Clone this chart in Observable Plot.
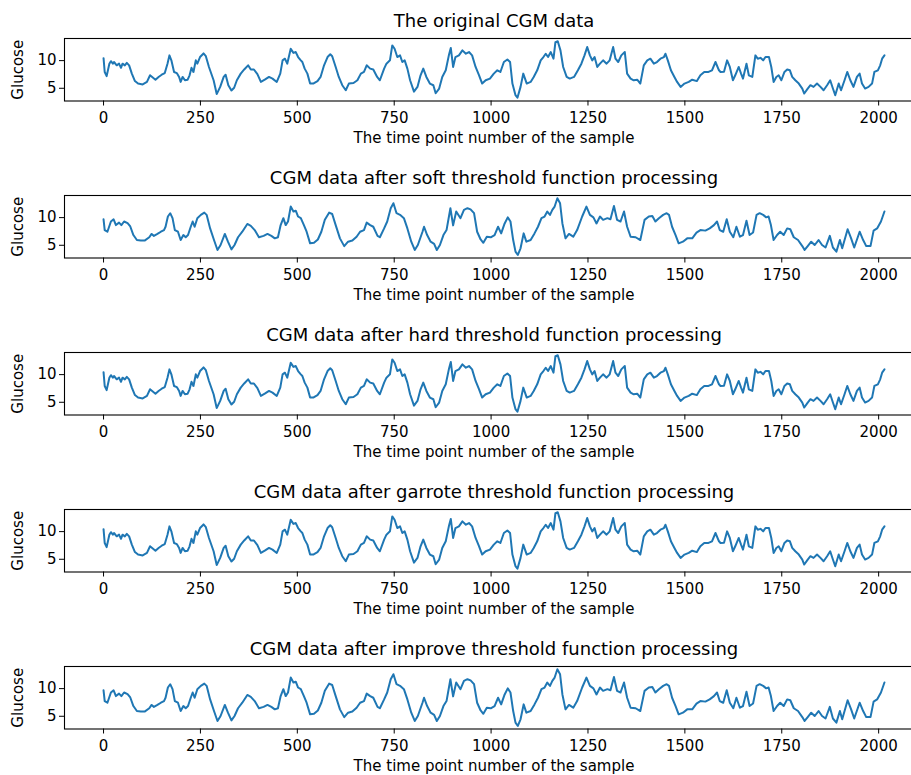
<!DOCTYPE html>
<html>
<head>
<meta charset="utf-8">
<script src="https://cdn.jsdelivr.net/npm/d3@7"></script>
<script src="https://cdn.jsdelivr.net/npm/@observablehq/plot@0.6"></script>
<style>
  html, body { margin: 0; padding: 0; background: #fff; overflow: hidden; }
  #charts { width: 911px; }
  #charts svg { display: block; overflow: hidden; }
</style>
</head>
<body>
<div id="charts"></div>
<script>
// CGM readings: [sample index, glucose mmol/L]
const rawReadings = [
  [0,10.45],[3,7.95],[8,7.2],[15,9.45],[19,9.9],[24,9.45],[27,9.75],[34,9.15],[40,9.45],[45,8.7],
  [49,9.45],[55,9.15],[60,9.6],[66,9.15],[73,7.65],[81,6.3],[89,5.85],[101,5.7],[112,6.15],[120,7.35],
  [127,6.95],[134,6.55],[142,7.05],[150,7.45],[158,7.75],[165,9.45],[170,10.95],[175,10.05],[182,7.95],[189,7.75],
  [195,7.05],[199,6.15],[204,7.05],[210,6.45],[217,6.55],[222,7.35],[227,8.7],[232,7.95],[238,10.05],[242,9.45],
  [249,10.65],[258,11.3],[264,10.8],[272,8.85],[284,6.45],[292,3.95],[301,5.25],[310,7.05],[315,7.45],[322,5.55],
  [330,4.6],[337,5.1],[344,6.45],[354,7.65],[363,8.4],[373,9.15],[380,8.4],[388,8.4],[397,7.55],[406,6.15],
  [416,6.55],[427,7.05],[436,6.75],[447,6.15],[456,7.65],[462,10.05],[468,10.35],[474,9.45],[483,12.15],[490,11.4],
  [496,11.55],[502,10.65],[509,10.05],[513,9.75],[519,8.55],[526,7.65],[533,5.85],[541,5.85],[552,6.3],[560,7.05],
  [569,9.15],[578,10.65],[585,11.15],[590,10.8],[599,8.85],[607,7.05],[616,5.55],[625,4.65],[633,5.85],[645,5.95],
  [655,6.45],[664,7.65],[672,7.95],[679,9.15],[688,8.55],[696,8.4],[706,7.05],[713,6.45],[724,8.55],[730,9.45],
  [739,10.05],[745,12.75],[751,12.15],[758,10.65],[765,10.95],[771,9.75],[777,10.05],[784,8.55],[791,6.45],[801,4.4],
  [810,5.25],[818,7.35],[825,8.55],[833,7.05],[842,5.85],[851,5.55],[857,4.1],[866,4.95],[874,7.05],[883,8.25],
  [891,10.95],[896,12.3],[902,8.85],[908,10.65],[917,10.95],[926,11.85],[935,11.25],[943,11.55],[951,10.95],[960,8.85],
  [969,7.35],[977,5.85],[986,6.45],[997,6.75],[1007,7.65],[1016,8.25],[1024,7.95],[1033,9.75],[1042,10.2],[1049,9.75],
  [1055,5.85],[1063,3.75],[1068,3.3],[1076,5.25],[1083,7.65],[1092,5.85],[1102,6.15],[1110,7.05],[1119,8.25],[1128,10.05],
  [1135,10.65],[1141,11.25],[1147,10.65],[1154,11.55],[1161,10.35],[1166,13.35],[1172,13.5],[1179,11.85],[1186,8.85],[1195,7.05],
  [1203,6.75],[1214,7.05],[1224,8.25],[1233,9.45],[1241,10.95],[1248,12.45],[1255,10.95],[1261,10.05],[1267,10.65],[1274,8.85],
  [1281,9.45],[1289,10.05],[1298,9.45],[1306,10.05],[1315,12.45],[1321,10.35],[1328,9.75],[1336,10.95],[1345,11.55],[1351,7.65],
  [1360,6.75],[1368,6.45],[1377,6.55],[1385,5.85],[1394,9.15],[1403,10.05],[1411,10.35],[1420,9.45],[1428,9.75],[1437,10.35],
  [1446,10.65],[1450,11.25],[1456,10.05],[1464,8.25],[1473,7.05],[1480,6.15],[1489,5.25],[1499,5.85],[1510,6.15],[1519,6.55],
  [1531,6.3],[1540,7.35],[1550,7.95],[1561,7.95],[1570,8.25],[1579,9.75],[1588,8.25],[1592,7.95],[1601,8.0],[1609,10.05],
  [1616,8.85],[1624,6.45],[1630,7.35],[1639,8.85],[1645,7.65],[1650,6.75],[1659,9.45],[1665,7.35],[1674,7.05],[1682,10.95],
  [1688,10.35],[1695,10.5],[1702,10.05],[1708,10.65],[1717,10.65],[1723,8.85],[1729,6.15],[1736,7.05],[1742,7.35],[1749,6.45],
  [1757,7.95],[1764,8.4],[1771,8.25],[1777,7.05],[1785,6.45],[1794,5.85],[1803,4.95],[1808,4.05],[1817,4.95],[1824,5.55],
  [1832,5.25],[1841,5.85],[1850,5.25],[1858,4.65],[1867,5.55],[1875,6.45],[1882,4.95],[1888,3.75],[1897,5.85],[1903,4.65],
  [1912,6.45],[1919,7.95],[1927,6.45],[1935,5.25],[1944,7.05],[1951,7.65],[1957,5.85],[1965,4.95],[1974,5.25],[1983,5.85],
  [1989,7.95],[1998,8.25],[2004,9.15],[2009,10.35],[2015,10.95]
];

// Soft-threshold wavelet output
const softReadings = [
  [0,9.7],[3,7.75],[10,7.45],[19,9.3],[26,9.7],[32,8.65],[40,9.1],[46,8.65],[53,9.3],[62,9.0],
  [69,8.4],[77,6.85],[86,5.95],[96,5.85],[106,5.85],[118,6.45],[124,7.05],[130,6.7],[139,7.05],[148,7.45],
  [156,7.75],[160,8.35],[166,10.2],[172,10.8],[178,9.9],[184,7.75],[192,7.45],[199,5.95],[206,6.85],[212,6.45],
  [218,6.85],[225,8.35],[230,9.3],[235,8.35],[242,9.9],[251,10.5],[260,10.9],[266,10.5],[275,8.05],[285,5.95],
  [294,4.15],[302,5.05],[313,7.05],[321,5.65],[330,4.25],[338,5.05],[347,6.45],[358,7.45],[371,8.85],[380,8.5],
  [390,7.75],[401,6.45],[413,6.7],[423,7.05],[433,6.7],[442,6.25],[450,6.45],[457,8.65],[464,9.9],[470,8.65],
  [476,9.3],[483,12.0],[490,11.1],[496,11.25],[502,10.2],[509,9.9],[517,8.65],[524,7.45],[533,5.35],[543,5.45],
  [553,6.05],[562,7.45],[571,9.6],[582,10.9],[590,10.65],[599,8.65],[610,6.25],[621,4.85],[631,5.65],[642,5.85],
  [653,6.55],[662,7.45],[672,7.75],[679,9.1],[688,8.65],[696,8.35],[707,6.7],[713,6.45],[724,8.05],[732,9.3],
  [741,11.7],[748,12.6],[756,10.8],[765,10.5],[775,9.9],[784,8.05],[794,5.65],[803,4.15],[811,5.05],[823,7.45],
  [827,8.35],[835,6.85],[844,5.65],[853,5.25],[860,4.15],[868,5.05],[877,6.85],[885,7.75],[895,11.7],[902,8.6],
  [910,11.1],[921,9.9],[930,11.4],[939,11.7],[947,11.5],[956,10.8],[964,7.45],[973,6.05],[980,5.45],[989,6.55],
  [999,6.45],[1009,6.85],[1018,8.35],[1026,7.15],[1035,8.95],[1043,10.05],[1050,9.3],[1057,5.95],[1063,3.85],[1069,3.25],
  [1076,4.45],[1084,7.15],[1091,5.65],[1102,5.95],[1112,7.15],[1121,8.35],[1130,9.9],[1138,10.2],[1145,11.1],[1152,10.5],
  [1158,11.4],[1164,12.0],[1171,13.5],[1178,12.6],[1184,8.95],[1192,6.25],[1201,7.05],[1212,6.55],[1222,7.75],[1235,10.2],
  [1246,12.0],[1255,10.5],[1264,10.05],[1272,8.95],[1281,10.2],[1289,9.6],[1300,9.9],[1308,9.7],[1317,12.1],[1325,9.6],
  [1334,9.3],[1343,11.1],[1351,8.35],[1360,6.55],[1373,6.45],[1385,5.95],[1396,9.6],[1407,10.2],[1416,10.3],[1424,9.3],
  [1433,9.9],[1444,10.5],[1453,10.8],[1459,10.5],[1467,8.35],[1476,6.85],[1484,5.35],[1495,5.65],[1506,6.25],[1519,6.25],
  [1530,7.3],[1540,7.75],[1553,7.65],[1564,8.05],[1575,8.65],[1583,9.3],[1590,7.75],[1599,7.45],[1608,9.7],[1616,7.45],
  [1625,6.45],[1633,8.35],[1642,6.55],[1650,6.85],[1659,9.45],[1667,6.85],[1676,7.3],[1685,10.5],[1693,10.8],[1702,10.5],
  [1710,10.05],[1716,10.2],[1722,8.65],[1729,5.95],[1738,6.85],[1746,7.45],[1755,6.85],[1764,8.05],[1772,7.9],[1781,6.45],
  [1792,5.95],[1803,4.85],[1809,4.15],[1817,4.85],[1826,5.65],[1835,5.05],[1845,5.95],[1854,5.05],[1863,4.6],[1874,6.7],
  [1882,4.6],[1891,3.85],[1900,5.95],[1906,4.45],[1920,7.9],[1929,6.25],[1937,4.6],[1951,7.45],[1960,5.95],[1968,4.85],
  [1979,4.85],[1987,7.65],[1996,8.05],[2006,9.3],[2015,11.1]
];

// The hard and garrote outputs track the raw readings point for point,
// and the improved function tracks the soft output.
const hardReadings = rawReadings;
const garroteReadings = rawReadings;
const improvedReadings = softReadings;

const panelTitles = [
  "The original CGM data",
  "CGM data after soft threshold function processing",
  "CGM data after hard threshold function processing",
  "CGM data after garrote threshold function processing",
  "CGM data after improve threshold function processing"
];
const panelSeries = [rawReadings, softReadings, hardReadings, garroteReadings, improvedReadings];

const xTicks = [0, 250, 500, 750, 1000, 1250, 1500, 1750, 2000];
const yTicks = [5, 10];
const xLabel = "The time point number of the sample";
const yLabel = "Glucose";

const root = document.getElementById("charts");

panelSeries.forEach((readings, i) => {
  const rows = readings.map(([t, g]) => ({t, g}));
  const chart = Plot.plot({
    width: 911,
    height: 157,
    marginTop: 38,
    marginBottom: 56.5,
    marginLeft: 64,
    marginRight: -12,
    style: {fontFamily: "DejaVu Sans", fontSize: "15px", color: "#000", background: "#fff", overflow: "hidden"},
    x: {domain: [-100.75, 2115.75]},
    y: {domain: [2.7, 14.0]},
    marks: [
      Plot.axisX({ticks: xTicks, tickFormat: "d", tickSize: 5, tickPadding: 6, label: null, fontSize: 15}),
      Plot.axisY({ticks: yTicks, tickFormat: "d", tickSize: 5, tickPadding: 3, label: null, fontSize: 15}),
      Plot.lineY(rows, {x: "t", y: "g", stroke: "#1f77b4", strokeWidth: 2}),
      Plot.frame({stroke: "#000", strokeWidth: 1.1}),
      // panel title, centred above the axes box
      Plot.text([panelTitles[i]], {text: d => d, frameAnchor: "top", lineAnchor: "middle", dy: -17, fontSize: 18}),
      // x-axis title below the tick labels
      Plot.text([xLabel], {text: d => d, frameAnchor: "bottom", lineAnchor: "middle", dy: 37, fontSize: 15}),
      // rotated y-axis title, centred on the box height
      Plot.text([yLabel], {text: d => d, frameAnchor: "left", textAnchor: "middle", lineAnchor: "middle", dx: -46, rotate: -90, fontSize: 15})
    ]
  });
  root.append(chart);
});
</script>
</body>
</html>
